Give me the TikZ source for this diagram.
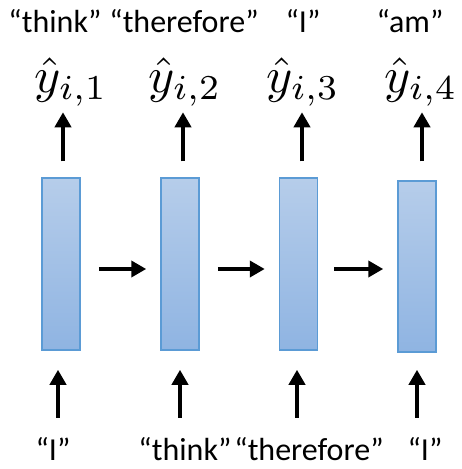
\documentclass[tikz,border=0pt]{standalone}
\usepackage{fontspec}
\setmainfont{Carlito}
\usetikzlibrary{arrows.meta}
\definecolor{celltop}{RGB}{182,205,234}
\definecolor{cellbot}{RGB}{143,180,226}
\definecolor{cellborder}{RGB}{91,155,213}
\newcommand{\bigmath}[1]{\scalebox{5}{$#1$}}
\begin{document}
\begin{tikzpicture}[x=1pt,y=1pt,
 cell/.style={draw=cellborder, line width=1.5pt, top color=celltop, bottom color=cellbot, minimum width=38pt, minimum height=172pt, inner sep=0pt},
 arr/.style={line width=4pt, -{Triangle[width=16pt,length=15pt]}},
 word/.style={font=\fontsize{32}{38}\selectfont, inner sep=0pt, anchor=base},
 yhat/.style={inner sep=0pt, anchor=base}]
\useasboundingbox (0,0) rectangle (462,-469);
% cells
\node[cell] (b1) at (61,-264) {};
\node[cell] (b2) at (180,-264) {};
\node[cell] (b3) at (298.5,-264) {};
\node[cell, minimum height=171pt] (b4) at (417,-266.5) {};
% top words
\node[word] (o1) at (55,-32) {“think”};
\node[word] (o2) at (184,-32) {“therefore”};
\node[word] (o3) at (303,-32) {“I”};
\node[word] (o4) at (410,-32) {“am”};
% outputs
\node[yhat] (y1) at (71,-92) {\bigmath{\hat{y}_{i,1}}};
\node[yhat] (y2) at (185,-92) {\bigmath{\hat{y}_{i,2}}};
\node[yhat] (y3) at (303,-92) {\bigmath{\hat{y}_{i,3}}};
\node[yhat] (y4) at (421,-92) {\bigmath{\hat{y}_{i,4}}};
% bottom words
\node[word] (i1) at (53,-460) {“I”};
\node[word] (i2) at (185,-460) {“think”};
\node[word] (i3) at (309,-460) {“therefore”};
\node[word] (i4) at (425,-460) {“I”};
% recurrent arrows
\draw[arr] ([shift={(18pt,-5pt)}]b1.east) -- ([shift={(-14pt,-5pt)}]b2.west);
\draw[arr] ([shift={(18pt,-5pt)}]b2.east) -- ([shift={(-14pt,-5pt)}]b3.west);
\draw[arr] ([shift={(16pt,-5pt)}]b3.east) -- ([shift={(-14pt,-2.5pt)}]b4.west);
% output arrows
\draw[arr] ([shift={(2pt,16pt)}]b1.north) -- ([shift={(2pt,65pt)}]b1.north);
\draw[arr] ([shift={(3pt,16pt)}]b2.north) -- ([shift={(3pt,65pt)}]b2.north);
\draw[arr] ([shift={(3.5pt,16pt)}]b3.north) -- ([shift={(3.5pt,65pt)}]b3.north);
\draw[arr] ([shift={(5pt,19pt)}]b4.north) -- ([shift={(5pt,68pt)}]b4.north);
% input arrows
\draw[arr] ([shift={(-3pt,-67pt)}]b1.south) -- ([shift={(-3pt,-19pt)}]b1.south);
\draw[arr] ([shift={(0pt,-67pt)}]b2.south) -- ([shift={(0pt,-19pt)}]b2.south);
\draw[arr] ([shift={(-1.5pt,-67pt)}]b3.south) -- ([shift={(-1.5pt,-19pt)}]b3.south);
\draw[arr] ([shift={(0pt,-65pt)}]b4.south) -- ([shift={(0pt,-17pt)}]b4.south);
\end{tikzpicture}
\end{document}
